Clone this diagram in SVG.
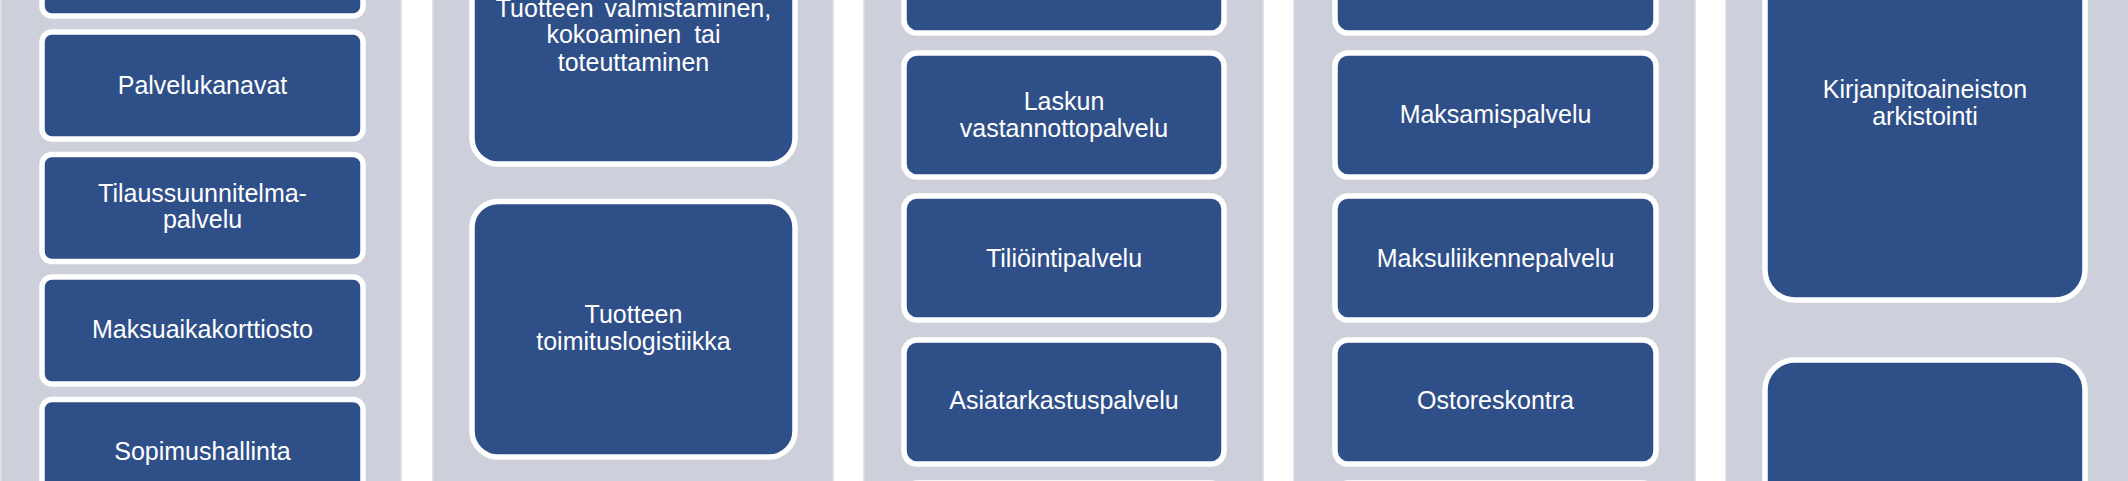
<svg xmlns="http://www.w3.org/2000/svg" width="2128" height="481" viewBox="0 0 2128 481">
<style>
.panel{fill:#CDD0DB;stroke:#DADDE6;stroke-width:1.5}
.box{fill:#2F4F88;stroke:#FFFFFF;stroke-width:5.5}
.t{font-family:"Liberation Sans",Arial,sans-serif;font-size:25px;fill:#FFFFFF;text-anchor:middle}
</style>
<rect x="0" y="0" width="2128" height="481" fill="#FFFFFF"/>
<g id="panels">
<rect class="panel" x="1" y="-10" width="400" height="501"/>
<rect class="panel" x="433" y="-10" width="400" height="501"/>
<rect class="panel" x="864" y="-10" width="399" height="501"/>
<rect class="panel" x="1294" y="-10" width="401" height="501"/>
<rect class="panel" x="1726" y="-10" width="410" height="501"/>
</g>
<g id="connectors"/>
<g id="col1">
<g id="c1b0"><rect class="box" x="42" y="-91" width="321" height="107" rx="10"/></g>
<g id="c1b1"><rect class="box" x="42" y="32" width="321" height="107" rx="10"/><text class="t" x="202.5" y="93.5">Palvelukanavat</text></g>
<g id="c1b2"><rect class="box" x="42" y="154.5" width="321" height="107" rx="10"/><text class="t" x="202.5" y="202">Tilaussuunnitelma-</text><text class="t" x="202.5" y="228">palvelu</text></g>
<g id="c1b3"><rect class="box" x="42" y="277" width="321" height="107" rx="10"/><text class="t" x="202.5" y="338">Maksuaikakorttiosto</text></g>
<g id="c1b4"><rect class="box" x="42" y="399.5" width="321" height="107" rx="10"/><text class="t" x="202.5" y="460">Sopimushallinta</text></g>
</g>
<g id="col2">
<g id="c2b0"><rect class="box" x="472" y="-91" width="323" height="255" rx="26"/><text class="t" x="633.5" y="17" word-spacing="4">Tuotteen valmistaminen,</text><text class="t" x="633.5" y="43" word-spacing="6">kokoaminen tai</text><text class="t" x="633.5" y="71">toteuttaminen</text></g>
<g id="c2b1"><rect class="box" x="472" y="201.5" width="323" height="255.5" rx="26"/><text class="t" x="633.5" y="323">Tuotteen</text><text class="t" x="633.5" y="350">toimituslogistiikka</text></g>
</g>
<g id="col3">
<g id="c3b0"><rect class="box" x="904" y="-91" width="320" height="124" rx="13"/></g>
<g id="c3b1"><rect class="box" x="904" y="53" width="320" height="124" rx="13"/><text class="t" x="1064" y="110">Laskun</text><text class="t" x="1064" y="137">vastannottopalvelu</text></g>
<g id="c3b2"><rect class="box" x="904" y="196" width="320" height="124" rx="13"/><text class="t" x="1064" y="267">Tiliöintipalvelu</text></g>
<g id="c3b3"><rect class="box" x="904" y="340" width="320" height="124" rx="13"/><text class="t" x="1064" y="409">Asiatarkastuspalvelu</text></g>
<g id="c3b4"><rect class="box" x="904" y="483" width="320" height="124" rx="13"/></g>
</g>
<g id="col4">
<g id="c4b0"><rect class="box" x="1335" y="-91" width="321" height="124" rx="13"/></g>
<g id="c4b1"><rect class="box" x="1335" y="53" width="321" height="124" rx="13"/><text class="t" x="1495.5" y="123">Maksamispalvelu</text></g>
<g id="c4b2"><rect class="box" x="1335" y="196" width="321" height="124" rx="13"/><text class="t" x="1495.5" y="267">Maksuliikennepalvelu</text></g>
<g id="c4b3"><rect class="box" x="1335" y="340" width="321" height="124" rx="13"/><text class="t" x="1495.5" y="409">Ostoreskontra</text></g>
<g id="c4b4"><rect class="box" x="1335" y="483" width="321" height="124" rx="13"/></g>
</g>
<g id="col5">
<g id="c5b0"><rect class="box" x="1765" y="-95" width="320" height="395" rx="30"/><text class="t" x="1925" y="98">Kirjanpitoaineiston</text><text class="t" x="1925" y="125">arkistointi</text></g>
<g id="c5b1"><rect class="box" x="1765" y="360" width="320" height="395" rx="30"/></g>
</g>
</svg>
